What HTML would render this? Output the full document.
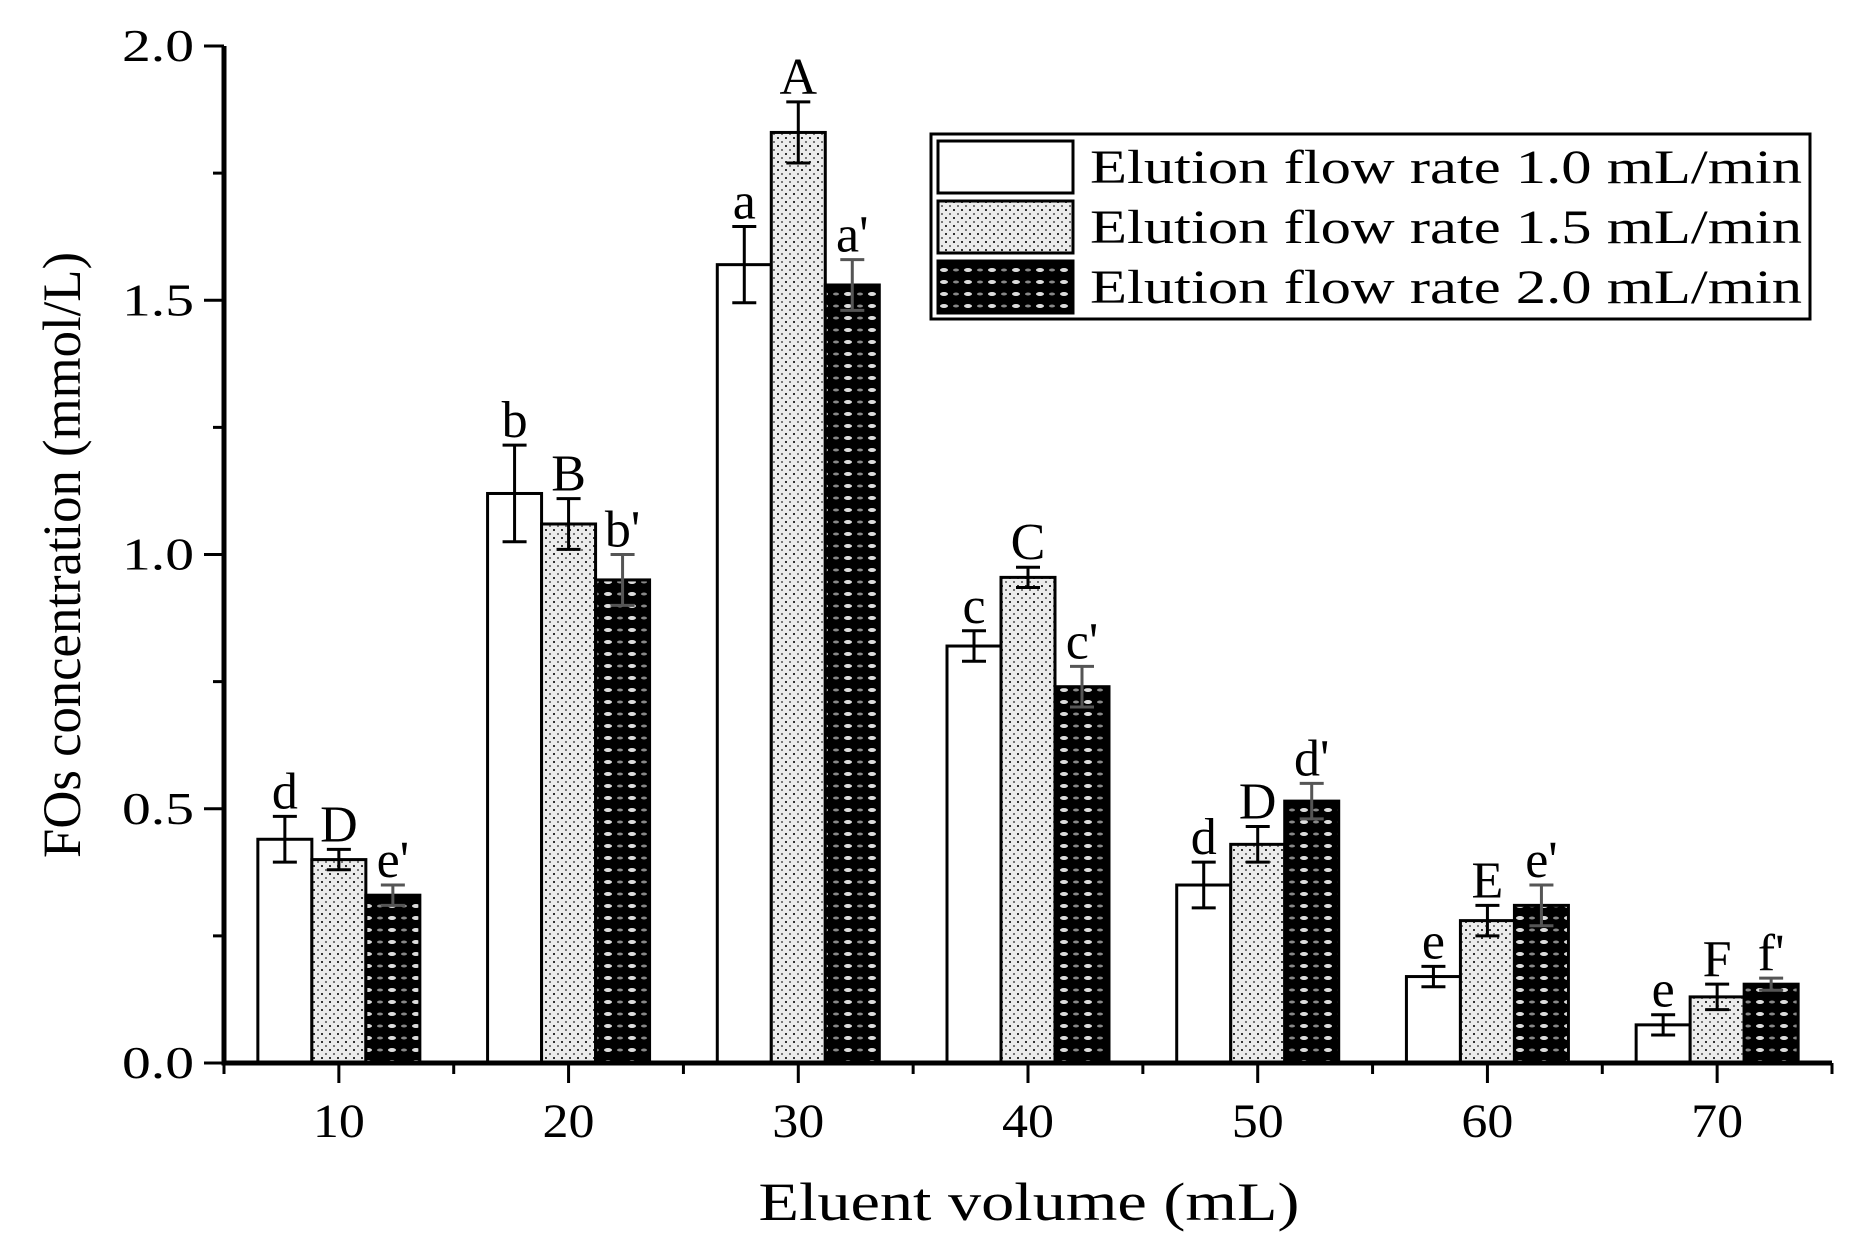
<!DOCTYPE html>
<html><head><meta charset="utf-8"><style>
html,body{margin:0;padding:0;background:#fff;}
svg{display:block;font-family:"Liberation Serif",serif;}
</style></head><body>
<svg id="chart" width="1865" height="1246" viewBox="0 0 1865 1246" xmlns="http://www.w3.org/2000/svg">
<defs>
<pattern id="dots" patternUnits="userSpaceOnUse" width="8" height="8">
<rect width="8" height="8" fill="#ececec"/>
<rect x="1" y="1" width="2" height="2" fill="#333"/>
<rect x="5" y="5" width="2" height="2" fill="#777"/>
</pattern>
<pattern id="blackdots" patternUnits="userSpaceOnUse" width="24" height="12">
<rect width="24" height="12" fill="#000"/>
<ellipse cx="8" cy="6" rx="4" ry="2" fill="#ddd"/>
<ellipse cx="20" cy="6" rx="3" ry="1.5" fill="#888"/>
</pattern>
</defs>
<g id="plot"></g>
</svg>
<script>
const categories = [10, 20, 30, 40, 50, 60, 70];
const series10 = [0.44, 1.12, 1.57, 0.82, 0.35, 0.17, 0.075];
const series15 = [0.40, 1.06, 1.83, 0.955, 0.43, 0.28, 0.13];
const series20 = [0.33, 0.95, 1.53, 0.74, 0.515, 0.31, 0.155];
const err10 = [0.045, 0.095, 0.075, 0.03, 0.045, 0.02, 0.02];
const err15 = [0.02, 0.05, 0.06, 0.02, 0.035, 0.03, 0.025];
const err20 = [0.02, 0.05, 0.05, 0.04, 0.035, 0.04, 0.012];
const letters10 = ["d", "b", "a", "c", "d", "e", "e"];
const letters15 = ["D", "B", "A", "C", "D", "E", "F"];
const letters20 = ["e'", "b'", "a'", "c'", "d'", "e'", "f'"];
const yTicks = [0, 0.5, 1.0, 1.5, 2.0];
const yTickLabels = ["0.0", "0.5", "1.0", "1.5", "2.0"];
const seriesNames = ["Elution flow rate 1.0 mL/min", "Elution flow rate 1.5 mL/min", "Elution flow rate 2.0 mL/min"];

const NS = "http://www.w3.org/2000/svg";
const g = document.getElementById('plot');
const X0 = 224, X1 = 1832, Y0 = 1063, Y1 = 46;
const x = v => X0 + (v - 5) / 70 * (X1 - X0);
const y = v => Y0 - v / 2.0 * (Y0 - Y1);
function el(tag, attrs, parent) {
  const e = document.createElementNS(NS, tag);
  for (const k in attrs) e.setAttribute(k, attrs[k]);
  (parent || g).appendChild(e);
  return e;
}
const allS = [series10, series15, series20];
const allE = [err10, err15, err20];
const allL = [letters10, letters15, letters20];
const fills = ["#fff", "url(#dots)", "url(#blackdots)"];
const bw = 54;
categories.forEach((c, i) => {
  for (let s = 0; s < 3; s++) {
    const cx = x(c) + (s - 1) * bw;
    const v = allS[s][i], e = allE[s][i];
    const r = el('rect', {x: cx - bw / 2, y: y(v), width: bw, height: Y0 - y(v), fill: fills[s], stroke: '#000', 'stroke-width': 3});
    
    
    const eb = el('path', {d: `M${cx},${y(v + e)}V${y(v - e)}M${cx - 12},${y(v + e)}h24M${cx - 12},${y(v - e)}h24`, stroke: s === 2 ? '#555' : '#000', 'stroke-width': 3, fill: 'none'});
    
    
    const t = el('text', {x: cx, y: y(v + e) - 8, 'text-anchor': 'middle', 'font-size': 52});
    t.textContent = allL[s][i];
    
    
  }
});
// axes
const ax = el('path', {d: `M${X0},${Y1}V${Y0}H${X1}`, stroke: '#000', 'stroke-width': 5, fill: 'none'});


yTicks.forEach((t, i) => {
  el('line', {x1: X0 - 20, x2: X0, y1: y(t), y2: y(t), stroke: '#000', 'stroke-width': 3});
  if (i < yTicks.length - 1) el('line', {x1: X0 - 11, x2: X0, y1: y(t + 0.25), y2: y(t + 0.25), stroke: '#000', 'stroke-width': 3});
  const tl = el('text', {x: X0 - 30, y: y(t) + 15, 'text-anchor': 'end', 'font-size': 46, textLength: 72, lengthAdjust: 'spacingAndGlyphs'});
  tl.textContent = yTickLabels[i];
  
  
});
categories.forEach(c => {
  el('line', {x1: x(c), x2: x(c), y1: Y0, y2: Y0 + 20, stroke: '#000', 'stroke-width': 3});
  el('line', {x1: x(c - 5), x2: x(c - 5), y1: Y0, y2: Y0 + 11, stroke: '#000', 'stroke-width': 3});
  const tl = el('text', {x: x(c), y: Y0 + 74, 'text-anchor': 'middle', 'font-size': 48, textLength: 52, lengthAdjust: 'spacingAndGlyphs'});
  tl.textContent = c;
  
  
});
el('line', {x1: x(75), x2: x(75), y1: Y0, y2: Y0 + 11, stroke: '#000', 'stroke-width': 3});
const xt = el('text', {x: 1029, y: 1220, 'text-anchor': 'middle', 'font-size': 54, textLength: 541, lengthAdjust: 'spacingAndGlyphs'});
xt.textContent = 'Eluent volume (mL)';


const yt = el('text', {x: 0, y: 0, 'text-anchor': 'middle', 'font-size': 54, textLength: 606, lengthAdjust: 'spacingAndGlyphs', transform: 'translate(80,555) rotate(-90)'});
yt.textContent = 'FOs concentration (mmol/L)';


// legend
const lg = el('g', {});


el('rect', {x: 931, y: 134, width: 879, height: 185, fill: '#fff', stroke: '#000', 'stroke-width': 3}, lg);
seriesNames.forEach((n, s) => {
  const yy = 141 + s * 60;
  const sw = el('rect', {x: 938, y: yy, width: 135, height: 52, fill: fills[s], stroke: '#000', 'stroke-width': 3}, lg);
  
  
  const t = el('text', {x: 1090, y: yy + 42, 'font-size': 48, textLength: 712, lengthAdjust: 'spacingAndGlyphs'}, lg);
  t.textContent = n;
  
  
});
</script>
</body></html>
